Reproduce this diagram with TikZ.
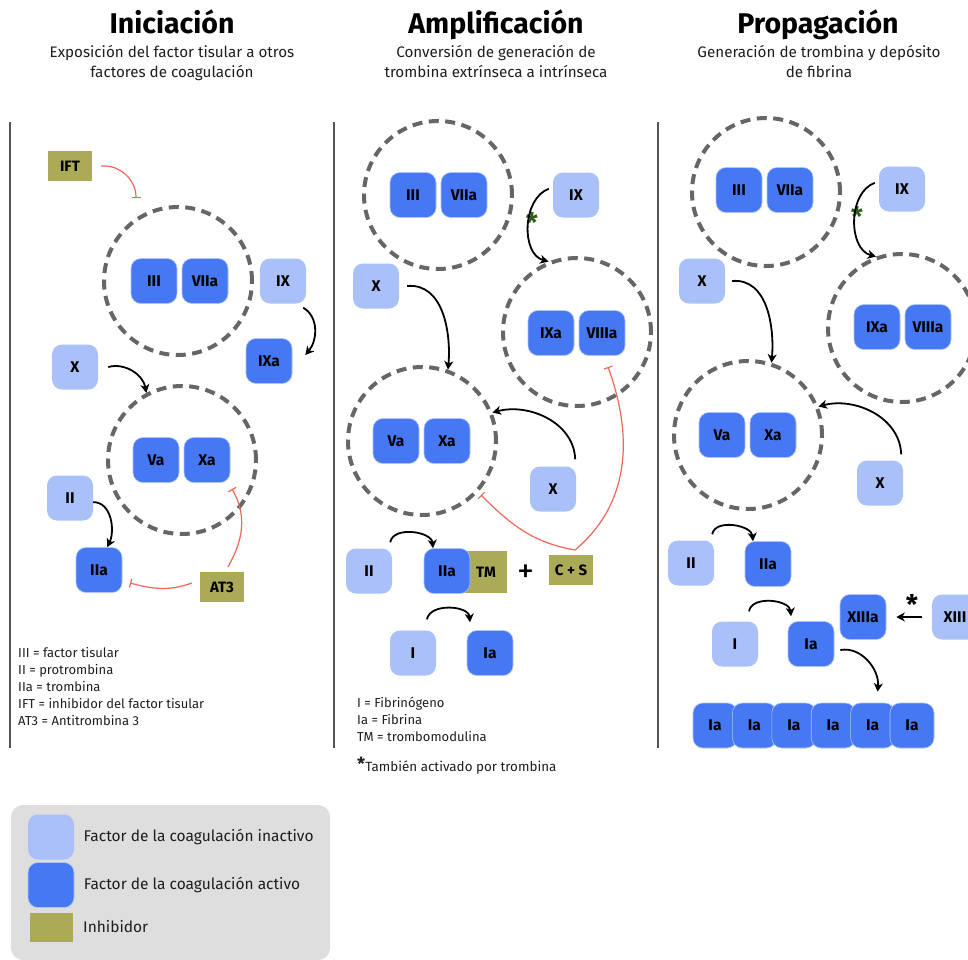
\documentclass[tikz,border=0pt]{standalone}
\usepackage{fontspec}
\setmainfont{Fira Sans}
\usetikzlibrary{arrows.meta,positioning}

\definecolor{inactc}{HTML}{A9C1F8}
\definecolor{actc}{HTML}{4678F4}
\definecolor{olivec}{HTML}{ABAA57}
\definecolor{ringc}{HTML}{666666}
\definecolor{redc}{HTML}{F0655A}
\definecolor{starc}{HTML}{2E5E1E}
\definecolor{legbg}{HTML}{DEDEDE}
\definecolor{subc}{HTML}{1E1E1E}
\definecolor{linec}{HTML}{555555}

\begin{document}
\begin{tikzpicture}[x=1pt, y=1pt, node distance=51pt,
  inact/.style={rounded corners=10pt, fill=inactc, minimum width=46pt, minimum height=45pt,
    font=\fontsize{15.5}{15.5}\selectfont\bfseries},
  act/.style={inact, fill=actc, draw=white!55!actc, line width=0.6pt},
  inhib/.style={fill=olivec, minimum width=44pt, minimum height=30pt,
    font=\fontsize{15}{15}\selectfont\bfseries},
  cplx/.style={circle, draw=ringc, line width=4pt, dash pattern=on 10pt off 6.5pt, minimum size=148pt},
  conv/.style={-{Stealth[length=8.5pt,width=9pt,inset=2.5pt]}, line width=1.8pt},
  stopl/.style={-{Bar[width=9pt,line width=1.2pt]}, draw=redc, line width=1.2pt},
  ttl/.style={anchor=base, font=\fontsize{28.5}{28.5}\selectfont\bfseries},
  sub/.style={anchor=north, align=center, inner sep=0, text=subc, font=\fontsize{15.2}{20.5}\selectfont},
  note/.style={anchor=north west, align=left, inner sep=0, text=subc, font=\fontsize{13}{17}\selectfont},
  astr/.style={inner sep=0, font=\fontsize{27}{27}\selectfont\bfseries}]

  \useasboundingbox (0,0) rectangle (968,-959);
  \clip (0,0) rectangle (968,-959);

  % Headers
  \node[ttl] (tIni) at (172,-33) {Iniciación};
  \node[sub] (sIni) at (172,-45) {Exposición del factor tisular a otros\\factores de coagulación};
  \node[ttl] (tAmp) at (496,-33) {Amplificación};
  \node[sub] (sAmp) at (496,-45) {Conversión de generación de\\trombina extrínseca a intrínseca};
  \node[ttl] (tPro) at (818,-33) {Propagación};
  \node[sub] (sPro) at (819,-45) {Generación de trombina y depósito\\de fibrina};

  % Dividers
  \draw[linec, line width=1.5pt] (10,-122) -- (10,-748);
  \draw[linec, line width=1.5pt] (334,-122) -- (334,-748);
  \draw[linec, line width=1.5pt] (658,-122) -- (658,-748);

  % Iniciacion
  \node[inhib] (iIFT) at (70,-166) {IFT};
  \node[cplx] (icA) at (178,-281) {};
  \node[act] (iIII) at (154,-281) {III};
  \node[act, right of=iIII] (iVIIa) {VIIa};
  \node[inact] (iIX) at (283,-281) {IX};
  \node[act] (iIXa) at (269,-361) {IXa};
  \node[inact] (iX) at (75,-367) {X};
  \node[cplx] (icB) at (182,-460) {};
  \node[act] (iVa) at (156,-460) {Va};
  \node[act, right of=iVa] (iXa) {Xa};
  \node[inact] (iII) at (70,-498) {II};
  \node[act] (iIIa) at (99,-570) {IIa};
  \node[inhib] (iAT3) at (222,-587) {AT3};
  \coordinate (iT1) at (136,-198);
  \coordinate (iT2) at (130,-583);
  \coordinate (iT3) at (232,-489);

  \draw[stopl] ([xshift=9pt]iIFT.east) to[out=5,in=90] (iT1);
  \draw[conv] ([shift={(-3,-4)}]iIX.south east) to[out=-30,in=50] ([shift={(13,6)}]iIXa.east);
  \draw[conv] ([xshift=10pt]iX.east) to[out=15,in=100] (icB.118);
  \draw[conv] (iII.-10) to[out=0,in=65] (iIIa.70);
  \draw[stopl] ([shift={(-8,4)}]iAT3.west) to[out=200,in=-15] (iT2);
  \draw[stopl] ([shift={(6,5)}]iAT3.north) to[out=60,in=-60] (iT3);

  \node[note] (iLeg) at (18,-647) {III = factor tisular\\II = protrombina\\IIa = trombina\\IFT = inhibidor del factor tisular\\AT3 = Antitrombina 3};

  % Amplificacion
  \node[cplx] (acA) at (438,-195) {};
  \node[act] (aIII) at (413,-195) {III};
  \node[act, right of=aIII] (aVIIa) {VIIa};
  \node[inact] (aIX) at (576,-195) {IX};
  \node[cplx] (acB) at (577,-332) {};
  \node[act] (aIXa) at (551,-333) {IXa};
  \node[act, right of=aIXa] (aVIIIa) {VIIIa};
  \node[inact] (aX) at (376,-286) {X};
  \node[cplx] (acC) at (422,-441) {};
  \node[act] (aVa) at (396,-441) {Va};
  \node[act, right of=aVa] (aXa) {Xa};
  \node[inact] (aX2) at (553,-489) {X};
  \node[inact] (aII) at (369,-571) {II};
  \node[inhib, minimum width=42pt, minimum height=42pt] (aTM) at (486,-572) {TM};
  \node[act] (aIIa) at (447,-571) {IIa};
  \node[font=\fontsize{34}{34}\selectfont] (aPlus) at (526,-574) {+};
  \node[inhib] (aCS) at (571,-570) {C + S};
  \node[inact] (aI) at (413,-653) {I};
  \node[act] (aIa) at (490,-653) {Ia};
  \node[astr, text=starc] (aS1) at (532,-222) {*};
  \coordinate (aV) at (575,-550);
  \coordinate (aT1) at (608,-367);
  \coordinate (aT2) at (481,-495);

  \draw[conv] ([xshift=-4pt]aIX.165) to[out=200,in=165] (acB.112);
  \draw[conv] ([xshift=8pt]aX.east) to[out=5,in=85] (acC.70);
  \draw[conv] ([shift={(-1,7)}]aX2.north east) to[out=92,in=15] (acC.22);
  \draw[stopl] (aV) to[out=40,in=-70] (aT1);
  \draw[stopl] (aV) to[out=170,in=-45] (aT2);
  \draw[conv] ([shift={(-2,6)}]aII.north east) to[out=80,in=95] ([xshift=-14pt]aIIa.north);
  \draw[conv] ([shift={(14,11)}]aI.north) to[out=80,in=95] ([shift={(-20,8)}]aIa.north);

  \node[note] (aLeg) at (357,-697) {I = Fibrinógeno\\Ia = Fibrina\\TM = trombomodulina};
  \node[note, anchor=base west, font=\fontsize{13.4}{17}\selectfont] (aFoot) at (357,-771) {\raisebox{1pt}{\fontsize{18}{18}\selectfont\bfseries *}También activado por trombina};

  % Propagacion
  \node[cplx] (pcA) at (766,-192) {};
  \node[act] (pIII) at (739,-190) {III};
  \node[act, right of=pIII] (pVIIa) {VIIa};
  \node[inact] (pIX) at (902,-189) {IX};
  \node[cplx] (pcB) at (902,-328) {};
  \node[act] (pIXa) at (877,-327) {IXa};
  \node[act, right of=pIXa] (pVIIIa) {VIIIa};
  \node[inact] (pX) at (702,-281) {X};
  \node[cplx] (pcC) at (748,-435) {};
  \node[act] (pVa) at (722,-435) {Va};
  \node[act, right of=pVa] (pXa) {Xa};
  \node[inact] (pX2) at (880,-483) {X};
  \node[inact] (pII) at (691,-563) {II};
  \node[act] (pIIa) at (768,-564) {IIa};
  \node[inact] (pI) at (735,-644) {I};
  \node[act] (pIa) at (811,-644) {Ia};
  \node[act] (pXIIIa) at (863,-617) {XIIIa};
  \node[inact] (pXIII) at (955,-617) {XIII};
  \node[astr, text=starc] (pS1) at (857,-216) {*};
  \node[astr] (pS2) at (912,-604) {*};

  % fibrin row
  \node[act, minimum width=44pt] (pR1) at (715,-725.5) {Ia};
  \node[act, minimum width=44pt, right of=pR1, node distance=39.4pt] (pR2) {Ia};
  \node[act, minimum width=44pt, right of=pR2, node distance=39.4pt] (pR3) {Ia};
  \node[act, minimum width=44pt, right of=pR3, node distance=39.4pt] (pR4) {Ia};
  \node[act, minimum width=44pt, right of=pR4, node distance=39.4pt] (pR5) {Ia};
  \node[act, minimum width=44pt, right of=pR5, node distance=39.4pt] (pR6) {Ia};

  \draw[conv] ([xshift=-4pt]pIX.165) to[out=200,in=165] (pcB.110);
  \draw[conv] ([xshift=7pt]pX.east) to[out=5,in=85] (pcC.72);
  \draw[conv] ([shift={(-2,6)}]pX2.north east) to[out=92,in=15] (pcC.22);
  \draw[conv] ([shift={(-2,6)}]pII.north east) to[out=80,in=95] ([xshift=-15pt]pIIa.north);
  \draw[conv] ([shift={(14,10)}]pI.north) to[out=80,in=95] ([shift={(-20,5)}]pIa.north);
  \draw[conv] ([shift={(6,-6)}]pIa.east) to[out=10,in=85] ([shift={(5,11)}]pR5.north);
  \draw[conv] ([xshift=-10pt]pXIII.west) -- ([xshift=10pt]pXIIIa.east);

  % Legend
  \node[fill=legbg, rounded corners=12pt, minimum width=319pt, minimum height=155pt] (leg) at (170.5,-882.5) {};
  \node[inact] (lgIn) at (51,-837) {};
  \node[right=6pt of lgIn, font=\fontsize{15.5}{15.5}\selectfont, text=subc] (lgInT) {Factor de la coagulación inactivo};
  \node[act] (lgAc) at (51,-885) {};
  \node[right=6pt of lgAc, font=\fontsize{15.5}{15.5}\selectfont, text=subc] (lgAcT) {Factor de la coagulación activo};
  \node[inhib, minimum width=43pt, minimum height=29pt] (lgIh) at (51,-927) {};
  \node[right=7pt of lgIh, font=\fontsize{15.5}{15.5}\selectfont, text=subc] (lgIhT) {Inhibidor};

\end{tikzpicture}
\end{document}
